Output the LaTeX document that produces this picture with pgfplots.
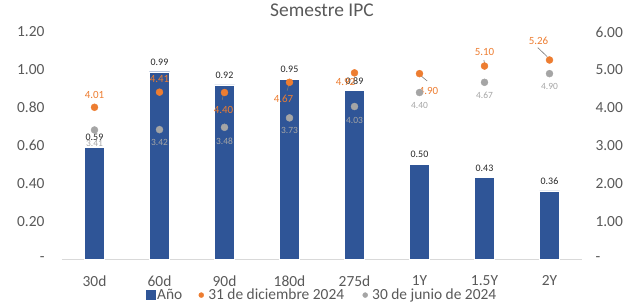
\documentclass[border=0pt]{standalone}
\usepackage{fontspec}
\setmainfont{Carlito}
\usepackage{pgfplots}
\pgfplotsset{compat=1.18}
\usepackage{pgfplotstable}
\definecolor{barblue}{HTML}{2F5597}
\definecolor{dorange}{HTML}{ED7D31}
\definecolor{dgray}{HTML}{A5A5A5}
\definecolor{tgray}{HTML}{595959}
\definecolor{lgray}{HTML}{D9D9D9}

\pgfplotstableread{
x y
0 0.59
1 0.99
2 0.92
3 0.95
4 0.89
5 0.50
6 0.43
7 0.36
}\bars

\pgfplotstableread{
x y dx dy
0 4.01 0 12
1 4.41 0 13
2 4.40 -1 -17
3 4.67 -6 -17
4 4.92 -9 -9
5 4.90 9 -17
6 5.10 0 14
7 5.26 -11 19
}\dic

\pgfplotstableread{
x y dx dy
0 3.41 0 -13
1 3.42 0 -13
2 3.48 0 -14
3 3.73 0 -13
4 4.03 0 -14
5 4.40 0 -13
6 4.67 0 -13
7 4.90 0 -13
}\jun

\pgfplotstableread{
x y u v
1.98 4.335 -0.015 -0.132
2.995 4.652 -0.031 -0.204
5.026 4.837 0.092 -0.132
5.99 5.26 0.01 -0.087
6.82 5.586 0.145 -0.238
}\leaders

\begin{document}
\begin{tikzpicture}
\pgfplotsset{
  common/.style={
    scale only axis, width=520bp, height=227bp,
    xmin=-0.5, xmax=7.5,
    major tick length=0pt,
    tick style={draw=none},
    ticklabel style={font=\fontsize{15.5}{18}\selectfont, text=tgray},
  }
}
\begin{axis}[common, name=ax,
  ymin=0, ymax=1.2,
  ytick={0,0.2,0.4,0.6,0.8,1.0,1.2},
  yticklabels={-,0.20,0.40,0.60,0.80,1.00,1.20},
  xtick={0,...,7},
  xticklabels={30d,60d,90d,180d,275d,1Y,1.5Y,2Y},
  axis y line*=left, axis x line*=bottom,
  y axis line style={draw=none},
  x axis line style={draw=lgray, line width=0.8pt},
  yticklabel style={xshift=-14bp},
  xticklabel style={yshift=-13bp},
  title={Semestre IPC},
  title style={font=\fontsize{19.5}{22}\selectfont, text=tgray, at={(0.5,1)}, anchor=center, yshift=16bp},
  clip=false,
]
\addplot[ybar, bar width=20bp, fill=barblue, draw=white, line width=0.4pt,
  nodes near coords, point meta=y,
  nodes near coords style={yshift=3bp, font=\fontsize{10}{12}\selectfont, text=black!85, /pgf/number format/.cd, fixed, precision=2, fixed zerofill, assume math mode=true},
] table[x=x,y=y] {\bars};
\end{axis}
\begin{axis}[common,
  ymin=0, ymax=6,
  ytick={0,1,2,3,4,5,6},
  yticklabels={-,1.00,2.00,3.00,4.00,5.00,6.00},
  xtick=\empty,
  axis y line*=right, axis x line=none,
  y axis line style={draw=none},
  yticklabel style={xshift=10bp},
  clip=false,
  legend columns=3,
  legend style={at={(0.5,-0.159)}, anchor=center, draw=none, fill=none,
    font=\fontsize{15.5}{18}\selectfont, text=tgray},
  legend cell align=left,
]
\addlegendimage{legend image code/.code={\fill[barblue] (0bp,-4.5bp) rectangle (9bp,4.5bp);}}
\addlegendentry{Año}
\addplot[only marks, mark=*, mark size=3.5bp, color=dorange,
  nodes near coords, point meta=y,
  visualization depends on={\thisrow{dx} \as \dx},
  visualization depends on={\thisrow{dy} \as \dy},
  nodes near coords style={anchor=center, xshift=\dx bp, yshift=\dy bp,
    font=\fontsize{11}{13}\selectfont, text=dorange,
    /pgf/number format/.cd, fixed, precision=2, fixed zerofill, assume math mode=true},
  legend image code/.code={\path[draw=none, fill=none] (-12bp,0bp) -- (10bp,0bp); \fill[dorange] (5bp,0bp) circle (2.5bp);},
] table[x=x,y=y] {\dic};
\addlegendentry{31 de diciembre 2024}
\addplot[only marks, mark=*, mark size=3.5bp, color=dgray,
  nodes near coords, point meta=y,
  visualization depends on={\thisrow{dx} \as \dx},
  visualization depends on={\thisrow{dy} \as \dy},
  nodes near coords style={anchor=center, xshift=\dx bp, yshift=\dy bp,
    font=\fontsize{9.5}{12}\selectfont, text=dgray,
    /pgf/number format/.cd, fixed, precision=2, fixed zerofill, assume math mode=true},
  legend image code/.code={\path[draw=none, fill=none] (-14bp,0bp) -- (10bp,0bp); \fill[dgray] (5bp,0bp) circle (2.5bp);},
] table[x=x,y=y] {\jun};
\addlegendentry{30 de junio de 2024}
\addplot[forget plot, quiver={u=\thisrow{u}, v=\thisrow{v}}, draw=tgray!80, line width=0.6pt, mark=none]
  table[x=x,y=y] {\leaders};
\end{axis}
\pgfresetboundingbox
\path ([xshift=-62bp,yshift=-46bp]ax.south west) rectangle ([xshift=54bp,yshift=32bp]ax.north east);
\end{tikzpicture}
\end{document}
